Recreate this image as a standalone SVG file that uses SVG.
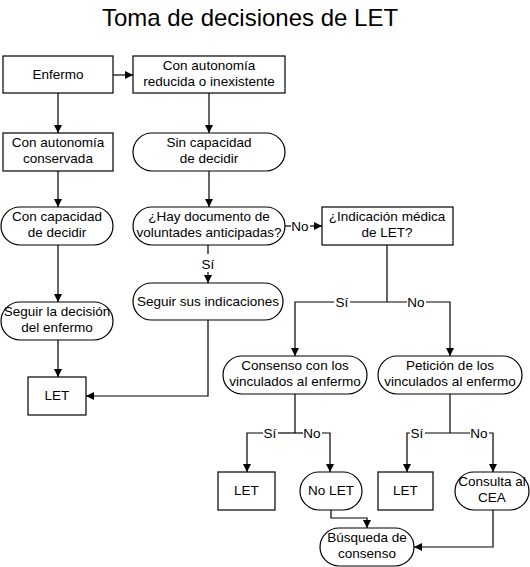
<svg xmlns="http://www.w3.org/2000/svg" width="530" height="567" viewBox="0 0 530 567">
<defs>
<marker id="ah" viewBox="0 0 10 10" refX="10" refY="5" markerWidth="8" markerHeight="8" markerUnits="userSpaceOnUse" orient="auto">
<path d="M0,0 L10,5 L0,10 z" fill="#000"/>
</marker>
<style>
.n{fill:#fff;stroke:#000;stroke-width:1.2}
.t{font-family:"Liberation Sans",Arial,sans-serif;font-size:13.5px;fill:#000;text-anchor:middle}
.c{fill:none;stroke:#000;stroke-width:1.2}
.a{marker-end:url(#ah)}
.ttl{font-family:"Liberation Sans",Arial,sans-serif;font-size:24px;fill:#000;text-anchor:middle}
</style>
</defs>
<rect width="530" height="567" fill="#fff"/>
<text class="ttl" x="250" y="26">Toma de decisiones de LET</text>

<g id="connectors">
<path class="c a" d="M113,75 H133"/>
<path class="c a" d="M58,93 V133"/>
<path class="c a" d="M209,93 V133"/>
<path class="c a" d="M58,171 V207"/>
<path class="c a" d="M209,171 V207"/>
<path class="c a" d="M58,245 V302"/>
<path class="c" d="M285,226 H291"/>
<text class="t" x="300" y="231">No</text>
<path class="c a" d="M310,226 H322"/>
<path class="c" d="M208,245 V254"/>
<text class="t" x="208" y="269">Sí</text>
<path class="c a" d="M208,272 V283"/>
<path class="c a" d="M58,340 V377"/>
<path class="c a" d="M208,320 V396 H86"/>
<path class="c" d="M387,245 V302"/>
<path class="c a" d="M334,302 H295 V356"/>
<text class="t" x="342" y="307">Sí</text>
<path class="c" d="M350,302 H407"/>
<text class="t" x="416" y="307">No</text>
<path class="c a" d="M426,302 H450 V356"/>
<path class="c" d="M295,394 V433"/>
<path class="c a" d="M263,433 H247 V472"/>
<text class="t" x="270" y="438">Sí</text>
<path class="c" d="M278,433 H303"/>
<text class="t" x="312" y="438">No</text>
<path class="c a" d="M322,433 H330 V472"/>
<path class="c" d="M450,394 V433"/>
<path class="c a" d="M410,433 H407 V472"/>
<text class="t" x="417" y="438">Sí</text>
<path class="c" d="M425,433 H470"/>
<text class="t" x="479" y="438">No</text>
<path class="c a" d="M489,433 H493 V472"/>
<path class="c a" d="M331,510 V518 H367 V528"/>
<path class="c a" d="M493,510 V547 H414"/>
</g>

<g id="enfermo"><rect class="n" x="3" y="56" width="110" height="37"/><text class="t" x="58" y="79">Enfermo</text></g>
<g id="reducida"><rect class="n" x="133" y="56" width="152" height="37"/><text class="t" x="209" y="70">Con autonomía</text><text class="t" x="209" y="86">reducida o inexistente</text></g>
<g id="conservada"><rect class="n" x="3" y="133" width="110" height="38"/><text class="t" x="58" y="147">Con autonomía</text><text class="t" x="58" y="163">conservada</text></g>
<g id="sincapacidad"><rect class="n" x="133" y="133" width="152" height="38" rx="19" ry="19"/><text class="t" x="209" y="147">Sin capacidad</text><text class="t" x="209" y="163">de decidir</text></g>
<g id="concapacidad"><rect class="n" x="1" y="207" width="112" height="38" rx="19" ry="19"/><text class="t" x="57" y="221">Con capacidad</text><text class="t" x="57" y="237">de decidir</text></g>
<g id="documento"><rect class="n" x="133" y="207" width="152" height="38" rx="19" ry="19"/><text class="t" x="209" y="221">¿Hay documento de</text><text class="t" x="209" y="237">voluntades anticipadas?</text></g>
<g id="indicacion"><rect class="n" x="322" y="207" width="131" height="38"/><text class="t" x="387" y="221">¿Indicación médica</text><text class="t" x="387" y="237">de LET?</text></g>
<g id="seguirsus"><rect class="n" x="133" y="283" width="150" height="37" rx="18.5" ry="18.5"/><text class="t" x="208" y="306">Seguir sus indicaciones</text></g>
<g id="seguirdecision"><rect class="n" x="1" y="302" width="112" height="38" rx="19" ry="19"/><text class="t" x="57" y="316">Seguir la decisión</text><text class="t" x="57" y="332">del enfermo</text></g>
<g id="let1"><rect class="n" x="28" y="377" width="58" height="38"/><text class="t" x="57" y="400">LET</text></g>
<g id="consenso"><rect class="n" x="223" y="356" width="144" height="38" rx="19" ry="19"/><text class="t" x="295" y="370">Consenso con los</text><text class="t" x="295" y="386">vinculados al enfermo</text></g>
<g id="peticion"><rect class="n" x="378" y="356" width="144" height="38" rx="19" ry="19"/><text class="t" x="450" y="370">Petición de los</text><text class="t" x="450" y="386">vinculados al enfermo</text></g>
<g id="let2"><rect class="n" x="218" y="472" width="57" height="38"/><text class="t" x="246.5" y="495">LET</text></g>
<g id="nolet"><rect class="n" x="300" y="472" width="62" height="38" rx="19" ry="19"/><text class="t" x="331" y="495">No LET</text></g>
<g id="let3"><rect class="n" x="378" y="472" width="55" height="38"/><text class="t" x="405.5" y="495">LET</text></g>
<g id="cea"><rect class="n" x="455" y="472" width="74" height="38" rx="19" ry="19"/><text class="t" x="492" y="486">Consulta al</text><text class="t" x="492" y="502">CEA</text></g>
<g id="busqueda"><rect class="n" x="320" y="528" width="94" height="38" rx="19" ry="19"/><text class="t" x="367" y="542">Búsqueda de</text><text class="t" x="367" y="558">consenso</text></g>
</svg>
